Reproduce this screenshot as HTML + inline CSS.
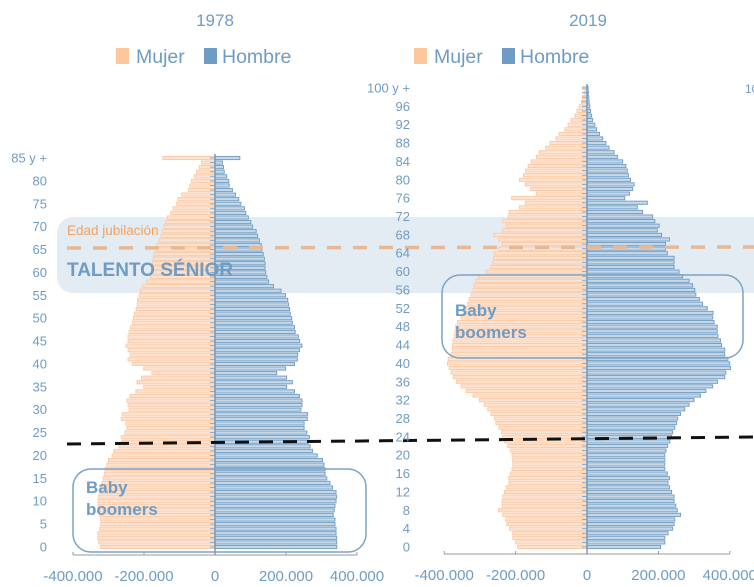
<!DOCTYPE html>
<html><head><meta charset="utf-8">
<style>
html,body{margin:0;padding:0;background:#fff;}
svg{display:block;font-family:"Liberation Sans",sans-serif;}
</style></head>
<body>
<svg id="chart" width="754" height="587" viewBox="0 0 754 587" xmlns="http://www.w3.org/2000/svg">
  <rect x="57" y="217" width="720" height="76" rx="16" fill="#e3ebf3"/>
  <g id="bars1"></g>
  <g id="bars2"></g>
  <line x1="67" y1="248" x2="754" y2="247" stroke="#e8b894" stroke-width="3.5" stroke-dasharray="14,12"/>
  <line x1="67" y1="444" x2="754" y2="437" stroke="#111" stroke-width="3" stroke-dasharray="14,10"/>
  <text x="67" y="235" font-size="13.5" fill="#f4a262">Edad jubilación</text>
  <text x="67" y="276" font-size="19" font-weight="bold" fill="#6e9cc4">TALENTO SÉNIOR</text>
  <rect x="73" y="469" width="293" height="83" rx="18" fill="none" stroke="#7ba3c8" stroke-width="1.5"/>
  <text font-size="17" font-weight="bold" fill="#6e9cc4"><tspan x="86" y="493">Baby</tspan><tspan x="86" y="515">boomers</tspan></text>
  <rect x="442" y="275" width="301" height="83" rx="18" fill="none" stroke="#7ba3c8" stroke-width="1.5"/>
  <text font-size="17" font-weight="bold" fill="#6e9cc4"><tspan x="455" y="316">Baby</tspan><tspan x="455" y="338">boomers</tspan></text>
  <text x="215" y="26" font-size="17" fill="#6e9cc4" text-anchor="middle">1978</text>
  <text x="588" y="26" font-size="17" fill="#6e9cc4" text-anchor="middle">2019</text>
  <g>
    <rect x="116" y="48" width="13" height="16" fill="#fdc79d"/>
    <text x="136" y="63" font-size="19.5" fill="#6e9cc4">Mujer</text>
    <rect x="204" y="48" width="13" height="16" fill="#6e9cc4"/>
    <text x="222" y="63" font-size="19.5" fill="#6e9cc4">Hombre</text>
  </g>
  <g>
    <rect x="414" y="48" width="13" height="16" fill="#fdc79d"/>
    <text x="434" y="63" font-size="19.5" fill="#6e9cc4">Mujer</text>
    <rect x="502" y="48" width="13" height="16" fill="#6e9cc4"/>
    <text x="520" y="63" font-size="19.5" fill="#6e9cc4">Hombre</text>
  </g>
  <text x="745" y="93" font-size="12" fill="#6e9cc4" xml:space="preserve">100  y  +</text>
  <g id="axes"></g>
</svg>
<script>
// 1978 (ages 0..85+), thousands
const women1978=[322,328,330,330,325,322,322,325,328,330,330,328,325,322,318,315,312,310,305,300,290,285,270,262,264,254,248,251,264,261,242,245,248,239,223,201,220,207,178,201,233,245,239,245,251,245,245,242,238,233,230,227,222,219,218,214,210,204,192,181,179,177,176,174,172,168,164,158,152,148,143,139,134,125,119,108,105,94,74,71,66,58,52,44,38,147];
const men1978=[343,343,343,341,341,338,338,333,336,338,341,343,341,331,324,315,310,310,307,303,288,275,268,263,266,259,251,251,260,261,242,245,245,238,224,202,218,202,174,199,224,232,233,238,245,238,235,226,224,218,216,212,210,207,205,199,186,165,151,146,143,141,141,139,136,132,130,125,120,116,106,101,94,87,83,73,67,58,49,40,39,33,26,24,21,70];
// 2019 (ages 0..100+), thousands
const women2019=[194,200,208,208,217,225,228,236,248,238,238,236,231,226,219,219,215,210,208,209,210,214,222,231,236,240,247,255,259,269,278,288,302,319,338,353,366,375,381,386,391,389,381,378,377,375,372,370,368,363,353,347,341,335,330,325,319,316,311,304,283,270,264,261,259,247,238,247,261,237,226,236,221,218,189,173,211,142,158,173,189,178,172,165,156,142,134,116,104,87,78,62,53,45,34,28,22,16,13,8,12];
const men2019=[206,218,218,227,240,244,246,262,253,249,244,244,237,231,227,231,225,218,218,218,218,221,226,232,237,240,246,251,254,262,274,286,300,318,333,352,366,386,389,402,400,395,386,386,377,374,367,365,365,356,352,353,337,324,315,305,302,296,286,268,258,244,244,244,225,220,220,231,209,197,202,190,184,156,141,169,106,119,128,132,122,116,113,109,100,86,76,62,53,44,35,27,22,16,13,10,8,6,5,4,3];
const ticks=[-400,-200,0,200,400];
const tickLabels=["-400.000","-200.000","0","200.000","400.000"];

const NS="http://www.w3.org/2000/svg";
function mk(tag,attrs,parent){const e=document.createElementNS(NS,tag);for(const k in attrs)e.setAttribute(k,attrs[k]);parent.appendChild(e);return e;}
const axes=document.getElementById('axes');

function pyramid(g,women,men,cfg){
  const n=women.length;
  const x=v=>cfg.x0+v*cfg.kx;
  const y=a=>cfg.y0-(cfg.y0-cfg.yTop)*a/(n-1);
  for(let a=0;a<n;a++){
    const yc=y(a);
    const wf=women[a]*cfg.kx, wm=men[a]*cfg.kx;
    const rf=mk('rect',{x:x(0)-wf,y:yc-1.6,width:wf,height:3.2,fill:'#fde3cf',stroke:'#fcc8a3','stroke-width':0.9},g);
    
    
    const rm=mk('rect',{x:x(0),y:yc-1.6,width:wm,height:3.2,fill:'#c6d7e7',stroke:'#6d9cc4','stroke-width':0.9},g);
    
    
    const tk=mk('line',{x1:x(0)-5,x2:x(0),y1:yc,y2:yc,stroke:'#8aa9c6','stroke-width':1},g);
    
    
    if(a%cfg.step===0 || a===n-1){
      const t=mk('text',{x:cfg.labX,y:yc+4.5,'font-size':13,fill:'#6e9cc4','text-anchor':'end'},axes);
      t.setAttribute('xml:space','preserve');
      t.textContent=(a===n-1)?(a+'  y  +'):String(a);
      
      
    }
  }
  const c=mk('line',{x1:x(0),x2:x(0),y1:y(n-1)-4,y2:cfg.axisY,stroke:'#6d9cc4','stroke-width':1.5},g);
  
  
  const ax=mk('line',{x1:x(ticks[0]),x2:x(ticks[ticks.length-1]),y1:cfg.axisY,y2:cfg.axisY,stroke:'#999','stroke-width':1},axes);
  
  
  ticks.forEach((v,i)=>{
    const tl=mk('line',{x1:x(v),x2:x(v),y1:cfg.axisY-3,y2:cfg.axisY,stroke:'#999','stroke-width':1},axes);
    
    
    const tt=mk('text',{x:x(v),y:cfg.axisY+26,'font-size':15,fill:'#6e9cc4','text-anchor':'middle'},axes);
    tt.textContent=tickLabels[i];
    
    
  });
}
pyramid(document.getElementById('bars1'),women1978,men1978,{x0:215,kx:0.355,y0:547,yTop:158,step:5,labX:47,axisY:555});
pyramid(document.getElementById('bars2'),women2019,men2019,{x0:587,kx:0.357,y0:547,yTop:88,step:4,labX:410,axisY:554});
</script>
</body></html>
